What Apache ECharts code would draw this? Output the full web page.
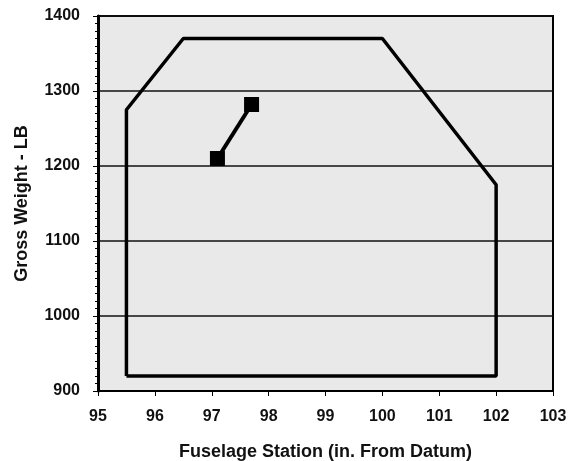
<!DOCTYPE html>
<html><head><meta charset="utf-8">
<script src="https://cdn.jsdelivr.net/npm/echarts@6/dist/echarts.min.js"></script>
<style>html,body{margin:0;padding:0;background:#fff}#c{width:571px;height:461px}</style>
</head><body><div id="c"></div>
<script>
const envelopeX = [95.5, 95.5, 96.5, 100, 102, 102, 95.5];
const envelopeY = [920, 1275, 1370, 1370, 1175, 920, 920];
const loadX = [97.1, 97.7];
const loadY = [1210, 1282];
const xTitle = 'Fuselage Station (in. From Datum)';
const yTitle = 'Gross Weight - LB';

const chart = echarts.init(document.getElementById('c'));
const font = 'Liberation Sans, Arial, sans-serif';
chart.setOption({
  animation: false,
  grid: {left: 98, right: 18, top: 16, bottom: 70, outerBoundsMode: 'none', containLabel: false,
    show: true, backgroundColor: '#e9e9e9', borderColor: '#000', borderWidth: 2},
  xAxis: {type: 'value', min: 95, max: 103, interval: 1,
    name: xTitle, nameLocation: 'middle', nameGap: 52,
    nameTextStyle: {fontFamily: font, fontWeight: 'bold', fontSize: 18, color: '#111'},
    axisLine: {lineStyle: {color: '#000', width: 2}},
    axisTick: {show: true, length: 5, lineStyle: {color: '#000'}},
    axisLabel: {fontFamily: font, fontWeight: 'bold', fontSize: 16, color: '#111', margin: 18},
    splitLine: {show: false}},
  yAxis: {type: 'value', min: 900, max: 1400, interval: 100,
    name: yTitle, nameLocation: 'middle', nameGap: 67,
    nameTextStyle: {fontFamily: font, fontWeight: 'bold', fontSize: 18, color: '#111'},
    axisLine: {show: true, lineStyle: {color: '#000', width: 3}},
    axisTick: {show: true, length: 5, lineStyle: {color: '#000'}},
    minorTick: {show: true, splitNumber: 10, length: 3, lineStyle: {color: '#000'}},
    axisLabel: {fontFamily: font, fontWeight: 'bold', fontSize: 16, color: '#111', margin: 18,
      formatter: v => String(v)},
    splitLine: {show: true, lineStyle: {color: '#111', width: 1.5}}},
  series: [
    {type: 'line', data: envelopeX.map((x, i) => [x, envelopeY[i]]), symbol: 'none',
      lineStyle: {color: '#000', width: 3.5}},
    {type: 'line', data: loadX.map((x, i) => [x, loadY[i]]), symbol: 'rect', symbolSize: 15,
      itemStyle: {color: '#000'}, lineStyle: {color: '#000', width: 4}}
  ]
});
</script></body></html>
